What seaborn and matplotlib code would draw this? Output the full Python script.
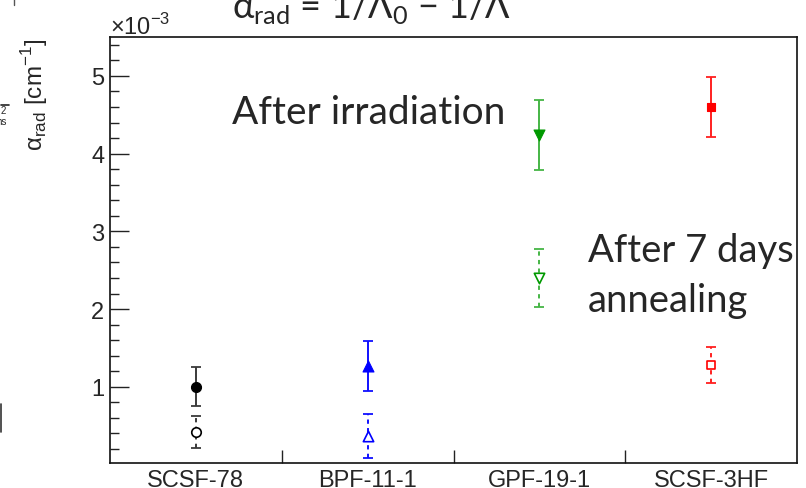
import matplotlib
matplotlib.use("Agg")
import matplotlib.pyplot as plt
import numpy as np
import pandas as pd
import seaborn as sns
from matplotlib.lines import Line2D
from matplotlib.ticker import MultipleLocator

# Radiation-induced attenuation alpha_rad, in units of 1e-3 cm^-1
fibers = ["SCSF-78", "BPF-11-1", "GPF-19-1", "SCSF-3HF"]
alpha_irradiated = [1.00, 1.27, 4.24, 4.60]
err_irradiated = [0.25, 0.32, 0.45, 0.38]
alpha_annealed = [0.42, 0.37, 2.40, 1.28]
err_annealed = [0.21, 0.28, 0.37, 0.23]
y_ticks = [1, 2, 3, 4, 5]

marker_colors = ["#000000", "#0000ff", "#009900", "#ff0000"]
line_colors = ["#3a3a3a", "#1010ff", "#45b545", "#ff2020"]
marker_shapes = ["o", "^", "v", "s"]
marker_sizes = [52, 62, 62, 40]

df = pd.DataFrame({
    "fiber": fibers * 2,
    "state": ["irradiated"] * 4 + ["annealed"] * 4,
    "alpha": alpha_irradiated + alpha_annealed,
    "err": err_irradiated + err_annealed,
})
df["pos"] = df["fiber"].map({f: i for i, f in enumerate(fibers)})

sns.set_style("ticks")
plt.rcParams["font.family"] = ["Liberation Sans", "DejaVu Sans"]

W, H = 806, 489
fig = plt.figure(figsize=(W / 100, H / 100), dpi=100)
ax = fig.add_axes([110 / W, 1 - 464 / H, (797 - 110) / W, (464 - 38) / H])

# error bars: solid after irradiation, dashed after annealing
for state, dashed in (("irradiated", False), ("annealed", True)):
    sub = df[df["state"] == state]
    for _, row in sub.iterrows():
        i = int(row["pos"])
        eb = ax.errorbar(row["pos"], row["alpha"], yerr=row["err"], fmt="none",
                         ecolor=line_colors[i], elinewidth=1.4, capsize=3.5,
                         capthick=1.3, zorder=2)
        if dashed:
            eb[2][0].set_linestyle((0, (2.2, 2.2)))

irr = df[df["state"] == "irradiated"]
ann = df[df["state"] == "annealed"]
for i, f in enumerate(fibers):
    sns.scatterplot(data=irr[irr["fiber"] == f], x="pos", y="alpha",
                    color=marker_colors[i], marker=marker_shapes[i],
                    s=marker_sizes[i], edgecolor=marker_colors[i], linewidth=0.8,
                    ax=ax, zorder=3, legend=False)
    sns.scatterplot(data=ann[ann["fiber"] == f], x="pos", y="alpha",
                    marker=marker_shapes[i], s=marker_sizes[i] * 0.9,
                    facecolor="white", edgecolor=marker_colors[i], linewidth=1.2,
                    ax=ax, zorder=3, legend=False)

ax.set_xlim(-0.5, 3.5)
ax.set_ylim(0.02, 5.5)
ax.set_xlabel("")
ax.set_ylabel("")

ax.set_xticks(range(len(fibers)))
ax.set_xticklabels(fibers)
ax.set_xticks([0.5, 1.5, 2.5], minor=True)
ax.tick_params(axis="x", which="major", length=0, pad=4, labelsize=17)
ax.tick_params(axis="x", which="minor", direction="in", length=9.5, width=1.0,
               color="#222222")

ax.set_yticks(y_ticks)
ax.set_yticklabels([str(t) for t in y_ticks])
ax.yaxis.set_minor_locator(MultipleLocator(0.2))
ax.tick_params(axis="y", which="major", direction="in", length=13.5, width=1.0,
               pad=4, color="#222222", labelsize=17)
ax.tick_params(axis="y", which="minor", direction="in", length=6.5, width=1.0,
               color="#222222")
for sp in ax.spines.values():
    sp.set_visible(True)
    sp.set_linewidth(1.2)
    sp.set_color("#111111")


def fx(px):
    return px / W


def fy(py):
    return 1 - py / H


slide = ["Lato", "DejaVu Sans"]

fig.text(fx(110), fy(35), "×10$^{\\mathregular{-3}}$", fontsize=17,
         ha="left", va="baseline")

fig.text(fx(232), fy(18),
         "α$_{\\mathregular{rad}}$ = 1/Λ$_{\\mathregular{0}}$ − 1/Λ",
         family=slide, fontsize=26, ha="left", va="baseline")

fig.text(fx(232), fy(124), "After irradiation", family=slide, fontsize=28,
         ha="left", va="baseline")
fig.text(fx(588), fy(262), "After 7 days", family=slide, fontsize=27.5,
         ha="left", va="baseline")
fig.text(fx(588), fy(312), "annealing", family=slide, fontsize=27.5,
         ha="left", va="baseline")

fig.text(fx(35), fy(38), "α$_{\\mathregular{rad}}$ [cm$^{\\mathregular{-1}}$]",
         fontsize=17.5, rotation=90, ha="center", va="top")

# fragments of neighbouring slide content at the left margin
fig.add_artist(Line2D([fx(0.8), fx(0.8)], [fy(405), fy(433)], color="#333333", lw=1.2))
fig.add_artist(Line2D([fx(14), fx(14)], [fy(0), fy(6)], color="#555555", lw=1.0))
fig.text(fx(1), fy(114), "2", fontsize=7, ha="left", va="baseline")
fig.add_artist(Line2D([fx(1), fx(9)], [fy(106), fy(106)], color="#222222", lw=1.2))
fig.text(fx(-4), fy(125), "ns", fontsize=7, ha="left", va="baseline")

fig.savefig("out.png", dpi=100)
